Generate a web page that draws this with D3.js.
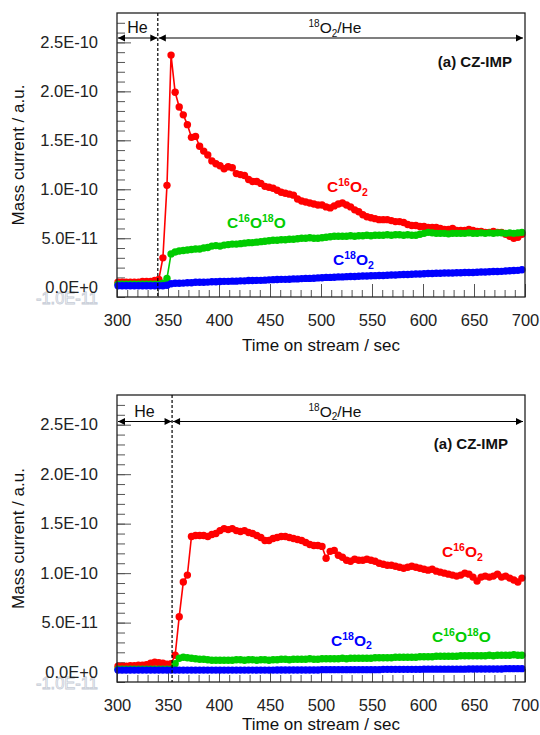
<!DOCTYPE html>
<html>
<head>
<meta charset="utf-8">
<script src="https://cdn.jsdelivr.net/npm/d3@7"></script>
<style>
  body { margin: 0; background: #fff; }
  svg { display: block; }
  text { font-family: "Liberation Sans", Arial, sans-serif; }
</style>
</head>
<body>
<svg id="chart" width="540" height="735"></svg>
<script>
// MS sampling grid (sec); all currents below are in units of 1E-11 a.u.
var times = d3.range(301, 700, 4);

var xTicks = [300, 350, 400, 450, 500, 550, 600, 650, 700];
var yTicks = [0, 5, 10, 15, 20, 25];
var yTickLabels = ["0.0E+0", "5.0E-11", "1.0E-10", "1.5E-10", "2.0E-10", "2.5E-10"];
var yGhostLabel = "-1.0E-11";

var seriesNames = ["C16O2", "C16O18O", "C18O2"];
var seriesColors = ["#ff0000", "#00cc00", "#0000ff"];

// switch-over time He -> 18O2/He for each panel
var switchTimes = [340, 354];

// --- top panel
var topRed = [
  0.5,0.5,0.5,0.5,0.5,0.5,0.6,0.6,0.6,0.7,
  0.8,3.0,10.4,23.7,19.9,18.4,17.6,16.6,15.3,15.4,
  14.4,13.9,13.5,12.9,12.6,12.4,12.1,12.3,12.2,11.6,
  11.5,11.4,11.0,10.8,10.8,10.6,10.3,10.2,10.1,9.9,
  9.7,9.6,9.5,9.4,9.0,8.8,8.7,8.6,8.5,8.4,
  8.4,8.2,8.1,8.3,8.5,8.6,8.4,8.2,7.9,7.7,
  7.4,7.2,7.1,7.0,6.9,6.9,6.9,6.8,6.7,6.7,
  6.6,6.4,6.3,6.3,6.2,6.2,6.1,6.1,6.1,6.0,
  5.9,5.9,6.0,5.8,5.8,5.8,5.9,5.8,5.7,5.7,
  5.6,5.6,5.7,5.6,5.6,5.4,5.2,5.0,5.1,5.4
];
var topGreen = [
  0.3,0.3,0.3,0.3,0.3,0.3,0.3,0.3,0.3,0.3,
  0.3,0.4,0.9,3.4,3.6,3.7,3.75,3.8,3.85,3.9,
  3.9,4.0,4.05,4.2,4.25,4.2,4.3,4.35,4.4,4.4,
  4.45,4.5,4.55,4.55,4.6,4.65,4.7,4.75,4.8,4.8,
  4.85,4.85,4.9,4.9,4.95,5.0,5.0,5.05,5.0,5.0,
  5.05,5.1,5.15,5.2,5.2,5.2,5.2,5.25,5.2,5.25,
  5.25,5.3,5.25,5.3,5.3,5.3,5.35,5.3,5.35,5.35,
  5.3,5.35,5.3,5.3,5.4,5.5,5.6,5.55,5.5,5.5,
  5.5,5.45,5.5,5.5,5.5,5.5,5.55,5.5,5.5,5.55,
  5.5,5.55,5.5,5.55,5.55,5.5,5.55,5.5,5.55,5.6
];
var topBlue = [
  0.15,0.15,0.15,0.15,0.15,0.15,0.15,0.15,0.15,0.15,
  0.15,0.15,0.2,0.35,0.4,0.4,0.42,0.45,0.45,0.5,
  0.5,0.5,0.52,0.55,0.55,0.58,0.6,0.6,0.62,0.62,
  0.65,0.65,0.68,0.68,0.7,0.7,0.72,0.75,0.77,0.78,
  0.8,0.8,0.82,0.85,0.85,0.88,0.9,0.9,0.92,0.95,
  0.97,1.0,1.0,1.02,1.05,1.05,1.08,1.1,1.1,1.12,
  1.15,1.15,1.17,1.18,1.2,1.2,1.22,1.25,1.25,1.28,
  1.3,1.3,1.32,1.35,1.35,1.38,1.4,1.4,1.42,1.42,
  1.45,1.45,1.45,1.48,1.48,1.5,1.5,1.5,1.52,1.55,
  1.55,1.58,1.6,1.6,1.62,1.65,1.68,1.7,1.72,1.78
];

// --- bottom panel
var botRed = [
  0.6,0.6,0.6,0.65,0.65,0.7,0.7,0.75,0.9,1.0,
  0.95,0.9,0.8,0.85,1.7,5.6,9.1,9.8,13.7,13.8,
  13.8,13.8,13.7,13.9,14.0,14.3,14.5,14.4,14.5,14.3,
  14.2,14.3,14.1,14.0,13.8,13.6,13.3,13.3,13.5,13.6,
  13.7,13.7,13.6,13.5,13.4,13.3,13.1,12.9,12.8,12.8,
  12.7,11.5,12.2,12.3,11.8,11.6,11.3,11.2,11.4,11.3,
  11.3,11.4,11.3,11.2,11.0,10.9,10.8,10.8,10.7,10.6,
  10.5,10.6,10.7,10.6,10.5,10.4,10.3,10.4,10.2,10.1,
  10.0,9.9,9.8,9.7,9.8,10.0,9.9,9.6,9.2,9.6,
  9.7,9.6,9.7,9.9,9.6,9.7,9.5,9.3,9.1,9.5
];
var botGreen = [
  0.3,0.3,0.3,0.3,0.3,0.3,0.3,0.3,0.3,0.3,
  0.3,0.3,0.3,0.3,0.85,1.4,1.5,1.45,1.4,1.35,
  1.3,1.3,1.25,1.2,1.2,1.2,1.2,1.2,1.2,1.25,
  1.25,1.2,1.25,1.25,1.2,1.25,1.25,1.2,1.25,1.25,
  1.3,1.3,1.25,1.3,1.3,1.3,1.3,1.35,1.3,1.3,
  1.35,1.35,1.35,1.35,1.35,1.4,1.35,1.4,1.4,1.4,
  1.4,1.4,1.4,1.45,1.45,1.45,1.45,1.45,1.5,1.5,
  1.5,1.5,1.5,1.5,1.55,1.55,1.55,1.55,1.6,1.6,
  1.6,1.6,1.6,1.6,1.65,1.65,1.65,1.65,1.65,1.65,
  1.65,1.7,1.65,1.7,1.7,1.7,1.7,1.75,1.7,1.7
];
var botBlue = [
  0.2,0.2,0.2,0.2,0.2,0.2,0.2,0.2,0.2,0.2,
  0.2,0.2,0.2,0.2,0.2,0.2,0.2,0.2,0.2,0.2,
  0.2,0.2,0.2,0.2,0.2,0.2,0.2,0.2,0.2,0.2,
  0.2,0.2,0.2,0.2,0.2,0.2,0.2,0.2,0.2,0.22,
  0.22,0.22,0.22,0.22,0.22,0.22,0.22,0.22,0.22,0.22,
  0.25,0.25,0.25,0.25,0.25,0.25,0.25,0.25,0.25,0.25,
  0.25,0.25,0.25,0.25,0.25,0.28,0.28,0.28,0.28,0.28,
  0.28,0.28,0.28,0.28,0.28,0.3,0.3,0.3,0.3,0.3,
  0.3,0.3,0.3,0.3,0.3,0.3,0.32,0.32,0.32,0.32,
  0.32,0.32,0.32,0.32,0.32,0.35,0.35,0.35,0.35,0.35
];

var svg = d3.select("#chart");

// text with super/subscripts: parts = [[text, 0|1|-1], ...]
function richText(sel, parts, bigSize, smallSize) {
  var shift = 0;
  parts.forEach(function(p){
    var target = p[1] === 1 ? -bigSize*0.38 : (p[1] === -1 ? bigSize*0.25 : 0);
    sel.append("tspan")
      .attr("dy", target - shift)
      .attr("font-size", p[1] === 0 ? bigSize : smallSize)
      .text(p[0]);
    shift = target;
  });
}

function panel(cfg) {
  var g = svg.append("g");
  var x = d3.scaleLinear().domain([300, 700]).range([117, 525]);
  var y = d3.scaleLinear().domain([-1, 28]).range([cfg.bottom, cfg.top]);

  // minor ticks
  g.append("g").attr("transform", "translate(0," + cfg.bottom + ")")
    .call(d3.axisBottom(x).tickValues(d3.range(300, 701, 10)).tickSize(-7).tickFormat(""))
    .call(function(a){ a.select(".domain").remove(); a.selectAll("line").attr("stroke", "#555"); });
  g.append("g").attr("transform", "translate(117,0)")
    .call(d3.axisLeft(y).tickValues(d3.range(-1, 28, 1)).tickSize(-8).tickFormat(""))
    .call(function(a){ a.select(".domain").remove(); a.selectAll("line").attr("stroke", "#555"); });

  // major ticks + labels
  var xa = g.append("g").attr("transform", "translate(0," + cfg.bottom + ")")
    .call(d3.axisBottom(x).tickValues(xTicks).tickSize(-13).tickPadding(17));
  xa.select(".domain").remove();
  xa.selectAll("line").attr("stroke", "#555");
  xa.selectAll("text").attr("font-size", 16.5).attr("fill", "#222")
    .attr("font-family", "'Liberation Sans', Arial, sans-serif");

  var ya = g.append("g").attr("transform", "translate(117,0)")
    .call(d3.axisLeft(y).tickValues(yTicks).tickSize(-14).tickPadding(19)
      .tickFormat(function(d, i){ return yTickLabels[i]; }));
  ya.select(".domain").remove();
  ya.selectAll("line").attr("stroke", "#555");
  ya.selectAll("text").attr("font-size", 16.5).attr("fill", "#222")
    .attr("font-family", "'Liberation Sans', Arial, sans-serif");

  // faint label at the axis floor, drawn behind the 0.0E+0 label
  ya.insert("text", ":first-child").attr("x", -19).attr("y", y(-1) - cfg.top * 0).attr("dy", "0.4em")
    .attr("text-anchor", "end").attr("font-size", 16.5)
    .attr("fill", "#fff").attr("stroke", "#c5cbd6").attr("stroke-width", 0.8)
    .text(yGhostLabel);

  // series: red, green, blue
  var line = d3.line().x(function(d){ return x(d[0]); }).y(function(d){ return y(d[1]); });
  cfg.series.forEach(function(vals, si){
    var pts = times.map(function(t, i){ return [t, vals[i]]; });
    g.append("path").datum(pts).attr("d", line)
      .attr("fill", "none").attr("stroke", seriesColors[si]).attr("stroke-width", 1.6);
    g.append("g").selectAll("circle").data(pts).join("circle")
      .attr("cx", function(d){ return x(d[0]); })
      .attr("cy", function(d){ return y(d[1]); })
      .attr("r", 3.7).attr("fill", seriesColors[si]);
  });

  // frame
  g.append("rect").attr("x", 117).attr("y", cfg.top)
    .attr("width", 525 - 117).attr("height", cfg.bottom - cfg.top)
    .attr("fill", "none").attr("stroke", "#222").attr("stroke-width", 1.3);

  // gas switch line
  var xs = x(cfg.switchT);
  g.append("line").attr("x1", xs).attr("x2", xs).attr("y1", cfg.top).attr("y2", cfg.bottom)
    .attr("stroke", "#000").attr("stroke-width", 1.2).attr("stroke-dasharray", "3,2");

  var ay = cfg.top + cfg.arrowOff;
  function arrow(x1, x2) {
    g.append("line").attr("x1", x1).attr("x2", x2).attr("y1", ay).attr("y2", ay)
      .attr("stroke", "#000").attr("stroke-width", 1.2);
    g.append("path").attr("d", "M" + x1 + "," + ay + "l7,-3.5v7z").attr("fill", "#000");
    g.append("path").attr("d", "M" + x2 + "," + ay + "l-7,-3.5v7z").attr("fill", "#000");
  }
  arrow(118, xs - 0.5);
  arrow(xs + 1, 523);

  g.append("text").attr("x", (117 + xs) / 2).attr("y", ay - 5)
    .attr("text-anchor", "middle").attr("font-size", 16).attr("fill", "#111").text("He");
  var hdr = g.append("text").attr("x", 335).attr("y", ay - 5)
    .attr("text-anchor", "middle").attr("fill", "#111");
  richText(hdr, [["18", 1], ["O", 0], ["2", -1], ["/He", 0]], 15.5, 10);

  g.append("text").attr("x", cfg.tagX).attr("y", cfg.top + cfg.tagOff)
    .attr("text-anchor", "end").attr("font-size", 15).attr("font-weight", "bold")
    .attr("fill", "#111").text("(a) CZ-IMP");

  // series labels
  var parts = [
    [["C", 0], ["16", 1], ["O", 0], ["2", -1]],
    [["C", 0], ["16", 1], ["O", 0], ["18", 1], ["O", 0]],
    [["C", 0], ["18", 1], ["O", 0], ["2", -1]]
  ];
  cfg.labels.forEach(function(p, i){
    var t = g.append("text").attr("x", p[0]).attr("y", p[1])
      .attr("font-weight", "bold").attr("fill", seriesColors[i]);
    richText(t, parts[i], 15.5, 10.5);
  });

  // axis titles
  g.append("text").attr("x", 321).attr("y", cfg.bottom + cfg.titleOff)
    .attr("text-anchor", "middle").attr("font-size", 17).attr("fill", "#111")
    .text("Time on stream / sec");
  g.append("text")
    .attr("transform", "translate(24," + ((cfg.top + cfg.bottom) / 2) + ") rotate(-90)")
    .attr("text-anchor", "middle").attr("font-size", 17).attr("fill", "#111")
    .text("Mass current / a.u.");
}

panel({
  top: 13, bottom: 297, switchT: switchTimes[0], arrowOff: 25, tagOff: 54, tagX: 512,
  titleOff: 54,
  series: [topRed, topGreen, topBlue],
  labels: [[327, 192], [227, 228], [333, 265]]
});
panel({
  top: 395, bottom: 682, switchT: switchTimes[1], arrowOff: 26.5, tagOff: 54, tagX: 508,
  titleOff: 48,
  series: [botRed, botGreen, botBlue],
  labels: [[442, 557], [432, 641.5], [331, 645.5]]
});
</script>
</body>
</html>
